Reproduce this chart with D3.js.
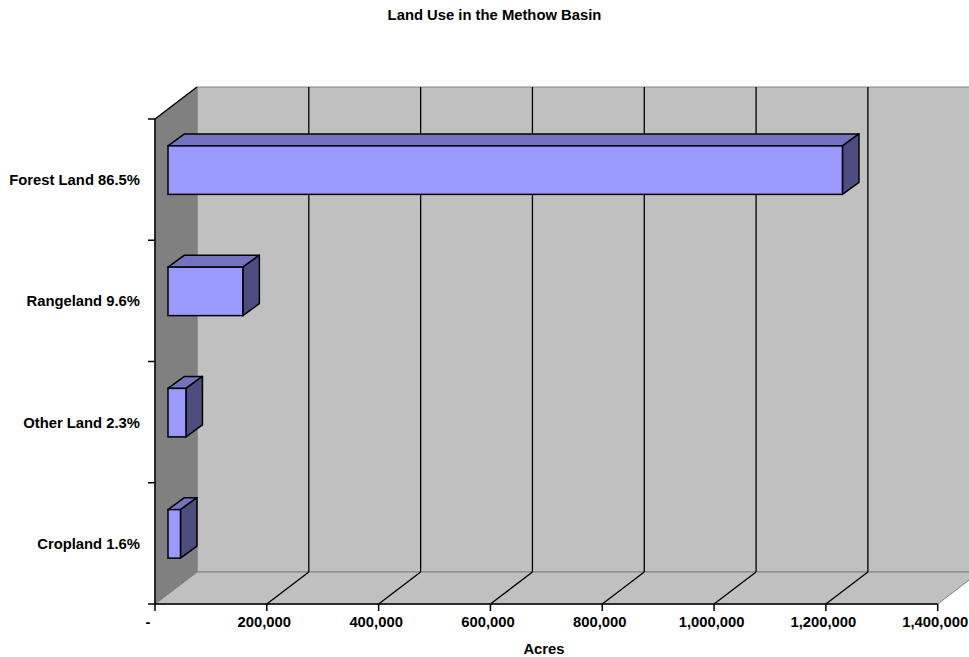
<!DOCTYPE html>
<html>
<head>
<meta charset="utf-8">
<script src="https://cdn.jsdelivr.net/npm/d3@7"></script>
<style>
  body { margin: 0; background: #fff; }
  text { font-family: "Liberation Sans", Arial, sans-serif; font-weight: bold; fill: #000; }
</style>
</head>
<body>
<div id="chart"></div>
<script>
// Data
var categories = ["Forest Land 86.5%", "Rangeland 9.6%", "Other Land 2.3%", "Cropland 1.6%"];
var acres = [1206400, 133900, 32100, 22300];
var tickValues = [0, 200000, 400000, 600000, 800000, 1000000, 1200000, 1400000];
var chartTitle = "Land Use in the Methow Basin";
var axisTitle = "Acres";

var attrs = {
  svgWidth: 969,
  svgHeight: 657,
  left: 155,
  right: 937.7,
  top: 119,
  bottom: 604,
  depthX: 42,     // back plane offset
  depthY: -32,
  barFrontX: 13,  // bar front face offset into depth
  barFrontY: -9.5,
  barDepthX: 16.5,
  barDepthY: -12,
  fontSize: 14.8
};

var colors = {
  wall: "#C0C0C0",
  sideWall: "#808080",
  edge: "#808080",
  barFront: "#9999FF",
  barTop: "#7373BF",
  barSide: "#4D4D80"
};

var svg = d3.select("#chart").append("svg")
  .attr("width", attrs.svgWidth)
  .attr("height", attrs.svgHeight);

var x = d3.scaleLinear().domain([0, 1400000]).range([attrs.left, attrs.right]);
var y = d3.scaleBand().domain(categories).range([attrs.top, attrs.bottom]).padding(0);

var dx = attrs.depthX, dy = attrs.depthY;
var L = attrs.left, R = attrs.right, T = attrs.top, B = attrs.bottom;

function poly(pts) { return "M" + pts.map(p => p.join(",")).join("L") + "Z"; }

// Back wall
svg.append("path")
  .attr("d", poly([[L + dx, T + dy], [R + dx, T + dy], [R + dx, B + dy], [L + dx, B + dy]]))
  .attr("fill", colors.wall)
  .attr("stroke", colors.edge);

// Floor
svg.append("path")
  .attr("d", poly([[L, B], [R, B], [R + dx, B + dy], [L + dx, B + dy]]))
  .attr("fill", colors.wall)
  .attr("stroke", colors.edge);

// Left side wall
svg.append("path")
  .attr("d", poly([[L, T], [L + dx, T + dy], [L + dx, B + dy], [L, B]]))
  .attr("fill", colors.sideWall)
  .attr("stroke", colors.edge);

// Gridlines on back wall and floor
var inner = tickValues.slice(1, -1);
svg.append("g").selectAll("line").data(inner).enter().append("line")
  .attr("x1", d => x(d) + dx).attr("x2", d => x(d) + dx)
  .attr("y1", T + dy).attr("y2", B + dy)
  .attr("stroke", "#000").attr("stroke-width", 1.3);

svg.append("g").selectAll("line").data(inner).enter().append("line")
  .attr("x1", d => x(d)).attr("x2", d => x(d) + dx)
  .attr("y1", B).attr("y2", B + dy)
  .attr("stroke", "#000").attr("stroke-width", 1.3);

// Axes lines
svg.append("line")
  .attr("x1", L).attr("x2", L).attr("y1", T).attr("y2", B)
  .attr("stroke", "#000").attr("stroke-width", 1.5);
svg.append("line")
  .attr("x1", L).attr("x2", L + dx).attr("y1", T).attr("y2", T + dy)
  .attr("stroke", "#000").attr("stroke-width", 1.3);
svg.append("line")
  .attr("x1", L).attr("x2", R).attr("y1", B).attr("y2", B)
  .attr("stroke", "#000").attr("stroke-width", 1.5);

// Category ticks
var bandEdges = categories.map(c => y(c)).concat([B]);
svg.append("g").selectAll("line").data(bandEdges).enter().append("line")
  .attr("x1", L - 7).attr("x2", L)
  .attr("y1", d => d).attr("y2", d => d)
  .attr("stroke", "#000").attr("stroke-width", 1.5);

// Value ticks
svg.append("g").selectAll("line").data(tickValues).enter().append("line")
  .attr("x1", d => x(d)).attr("x2", d => x(d))
  .attr("y1", B).attr("y2", B + 7)
  .attr("stroke", "#000").attr("stroke-width", 1.5);

var fmt = d3.format(",");
svg.append("g").selectAll("text").data(tickValues).enter().append("text")
  .attr("x", d => d === 0 ? x(d) - 7 : x(d) - 2.5)
  .attr("y", 627)
  .attr("text-anchor", "middle")
  .attr("font-size", attrs.fontSize)
  .text(d => d === 0 ? "-" : fmt(d));

// Category labels
svg.append("g").selectAll("text").data(categories).enter().append("text")
  .attr("x", 140)
  .attr("y", d => y(d) + y.bandwidth() / 2 + 5.4)
  .attr("text-anchor", "end")
  .attr("font-size", attrs.fontSize)
  .text(d => d);

// Bars (3D boxes)
var barH = y.bandwidth() * 0.4;
var bars = svg.append("g").selectAll("g").data(categories).enter().append("g");

bars.each(function (c, i) {
  var g = d3.select(this);
  var x0 = x(0) + attrs.barFrontX;
  var x1 = x(acres[i]) + attrs.barFrontX;
  var yc = y(c) + y.bandwidth() / 2 + attrs.barFrontY;
  var y0 = yc - barH / 2, y1 = yc + barH / 2;
  var ddx = attrs.barDepthX, ddy = attrs.barDepthY;

  g.append("path")
    .attr("d", poly([[x0, y0], [x1, y0], [x1 + ddx, y0 + ddy], [x0 + ddx, y0 + ddy]]))
    .attr("fill", colors.barTop).attr("stroke", "#000").attr("stroke-width", 1.5)
    .attr("stroke-linejoin", "round");
  g.append("path")
    .attr("d", poly([[x1, y0], [x1 + ddx, y0 + ddy], [x1 + ddx, y1 + ddy], [x1, y1]]))
    .attr("fill", colors.barSide).attr("stroke", "#000").attr("stroke-width", 1.5)
    .attr("stroke-linejoin", "round");
  g.append("rect")
    .attr("x", x0).attr("y", y0)
    .attr("width", x1 - x0).attr("height", y1 - y0)
    .attr("fill", colors.barFront).attr("stroke", "#000").attr("stroke-width", 1.5);
});

// Titles
svg.append("text")
  .attr("x", 494.5).attr("y", 20)
  .attr("text-anchor", "middle")
  .attr("font-size", attrs.fontSize)
  .text(chartTitle);

svg.append("text")
  .attr("x", 544).attr("y", 654)
  .attr("text-anchor", "middle")
  .attr("font-size", attrs.fontSize)
  .text(axisTitle);
</script>
</body>
</html>
